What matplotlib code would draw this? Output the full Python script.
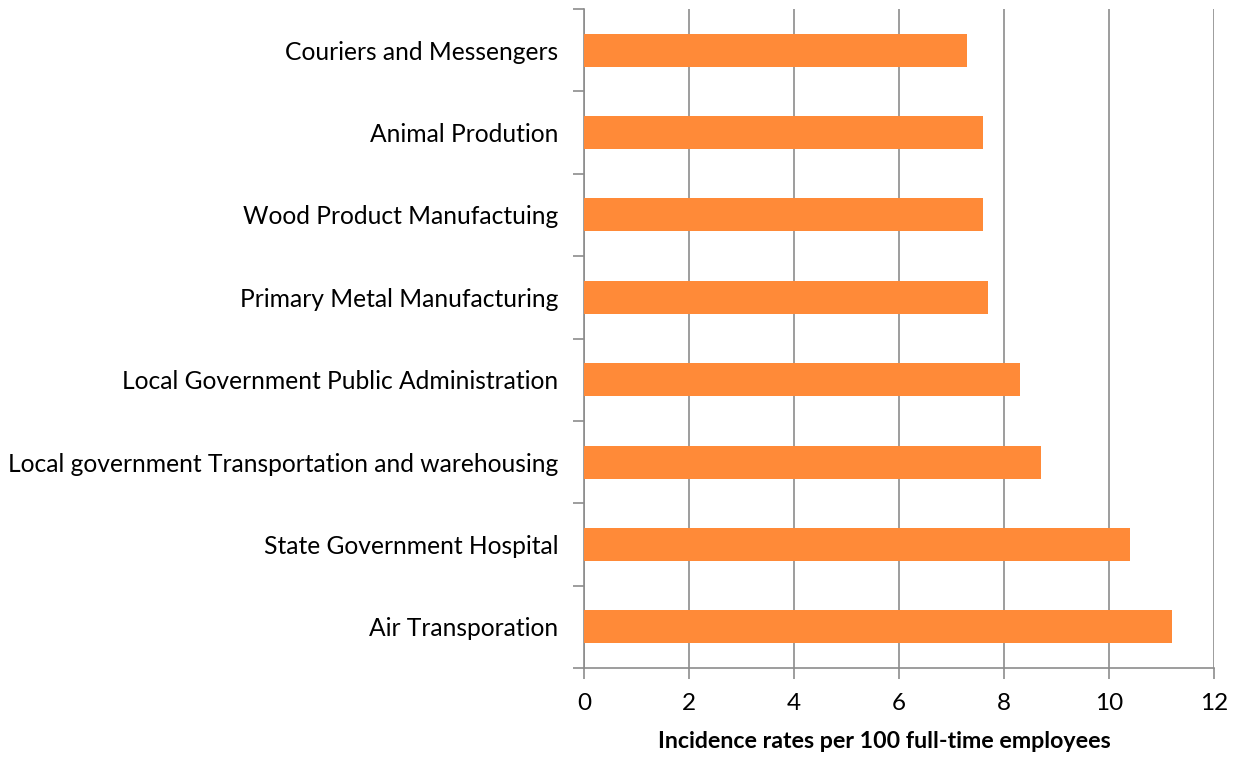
import matplotlib.pyplot as plt
import numpy as np

industries = ['Air Transporation', 'State Government Hospital',
              'Local government Transportation and warehousing',
              'Local Government Public Administration',
              'Primary Metal Manufacturing', 'Wood Product Manufactuing',
              'Animal Prodution', 'Couriers and Messengers']
rates = [11.2, 10.4, 8.7, 8.3, 7.7, 7.6, 7.6, 7.3]
xticks = [0, 2, 4, 6, 8, 10, 12]

plt.rcParams['font.family'] = ['Lato', 'DejaVu Sans']

fig = plt.figure(figsize=(12.39, 7.59), dpi=100)
ax = fig.add_axes([0.4714, 0.1199, 0.5084, 0.8682])

y = np.arange(len(industries))
ax.barh(y, rates, height=0.4, color='#FF8A38', zorder=3)

ax.set_xlim(0, 12)
ax.set_ylim(-0.5, len(industries) - 0.5)
ax.set_xticks(xticks)
ax.set_yticks(y)
ax.set_yticklabels(industries, fontsize=17.7)
ax.tick_params(axis='y', length=0, pad=18.5)
# category separators as minor ticks
ax.set_yticks(np.arange(-0.5, len(industries)), minor=True)
ax.tick_params(axis='y', which='minor', length=8, color='#8c8c8c', width=1.2)
ax.tick_params(axis='x', length=8, color='#8c8c8c', width=1.2, labelsize=17.5, pad=10)

ax.grid(axis='x', color='#8c8c8c', linewidth=1.2, zorder=0)
for s in ['top', 'right']:
    ax.spines[s].set_visible(False)
for s in ['left', 'bottom']:
    ax.spines[s].set_color('#8c8c8c')
    ax.spines[s].set_linewidth(1.2)

ax.set_xlabel('Incidence rates per 100 full-time employees', fontsize=16.7,
              fontweight='bold')
ax.xaxis.set_label_coords(0.477, -0.095)

fig.savefig('out.png', dpi=100)
